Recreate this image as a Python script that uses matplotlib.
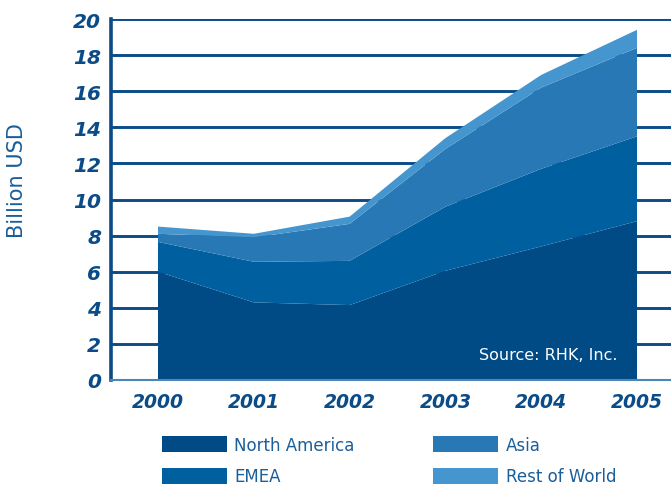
import matplotlib
matplotlib.use("Agg")
import matplotlib.pyplot as plt
import numpy as np

years = [2000, 2001, 2002, 2003, 2004, 2005]
north_america = [6.0, 4.3, 4.15, 6.05, 7.4, 8.8]
emea = [1.65, 2.25, 2.45, 3.55, 4.3, 4.7]
asia = [0.45, 1.35, 2.05, 3.2, 4.5, 4.9]
rest_of_world = [0.4, 0.2, 0.4, 0.6, 0.7, 1.0]
series_names = ["North America", "EMEA", "Asia", "Rest of World"]
yticks = [0, 2, 4, 6, 8, 10, 12, 14, 16, 18, 20]

colors = ["#004A86", "#005F9E", "#2778B5", "#4595CE"]
dark = "#0B4C88"

fig = plt.figure(figsize=(6.71, 4.85), dpi=100)
ax = fig.add_axes([111/671, 1 - 381/485, 1 - 111/671, (381 - 20)/485])

polys = ax.stackplot(years, north_america, emea, asia, rest_of_world,
                     colors=colors, labels=series_names, zorder=3, linewidth=0)

ax.set_xlim(2000 - 47/95.8, 2005 + 34/95.8)
ax.set_ylim(0, 20)
ax.set_yticks(yticks)
ax.set_yticklabels([str(v) for v in yticks])
ax.set_xticks(years)
ax.set_xticklabels([str(y) for y in years])

for v in yticks[1:]:
    ax.axhline(v, color=dark, linewidth=2.1, zorder=1)

for s in ["top", "right"]:
    ax.spines[s].set_visible(False)
ax.spines["left"].set_color(dark)
ax.spines["left"].set_linewidth(2.6)
ax.spines["bottom"].set_color("#4F86B8")
ax.spines["bottom"].set_linewidth(1.5)
ax.spines["bottom"].set_zorder(4)

ax.tick_params(axis="both", length=0, colors=dark)
for lab in ax.get_yticklabels():
    lab.set_fontsize(14.5)
    lab.set_fontweight("bold")
    lab.set_fontstyle("italic")
    lab.set_color(dark)
for lab in ax.get_xticklabels():
    lab.set_fontsize(13.5)
    lab.set_fontweight("bold")
    lab.set_fontstyle("italic")
    lab.set_color(dark)
ax.tick_params(axis="y", pad=7)
ax.tick_params(axis="x", pad=9)

fig.text(17/671, 1 - 181/485, "Billion USD", rotation=90, va="center", ha="center",
         fontsize=15, color="#1A5E9A")

ax.text(0.905, 0.072, "Source: RHK, Inc.", transform=ax.transAxes, ha="right",
        va="center", fontsize=11.5, color="white", zorder=5)

leg = fig.legend(handles=polys, labels=series_names, ncol=2,
                 loc="upper left", bbox_to_anchor=(162/671, 1 - 437/485),
                 frameon=False, fontsize=12, handlelength=3.9, handleheight=1.08,
                 labelspacing=0.8, columnspacing=4.7, handletextpad=0.45,
                 borderpad=0, borderaxespad=0)
for t in leg.get_texts():
    t.set_color("#1A5E9A")

fig.savefig("out.png", dpi=100)
